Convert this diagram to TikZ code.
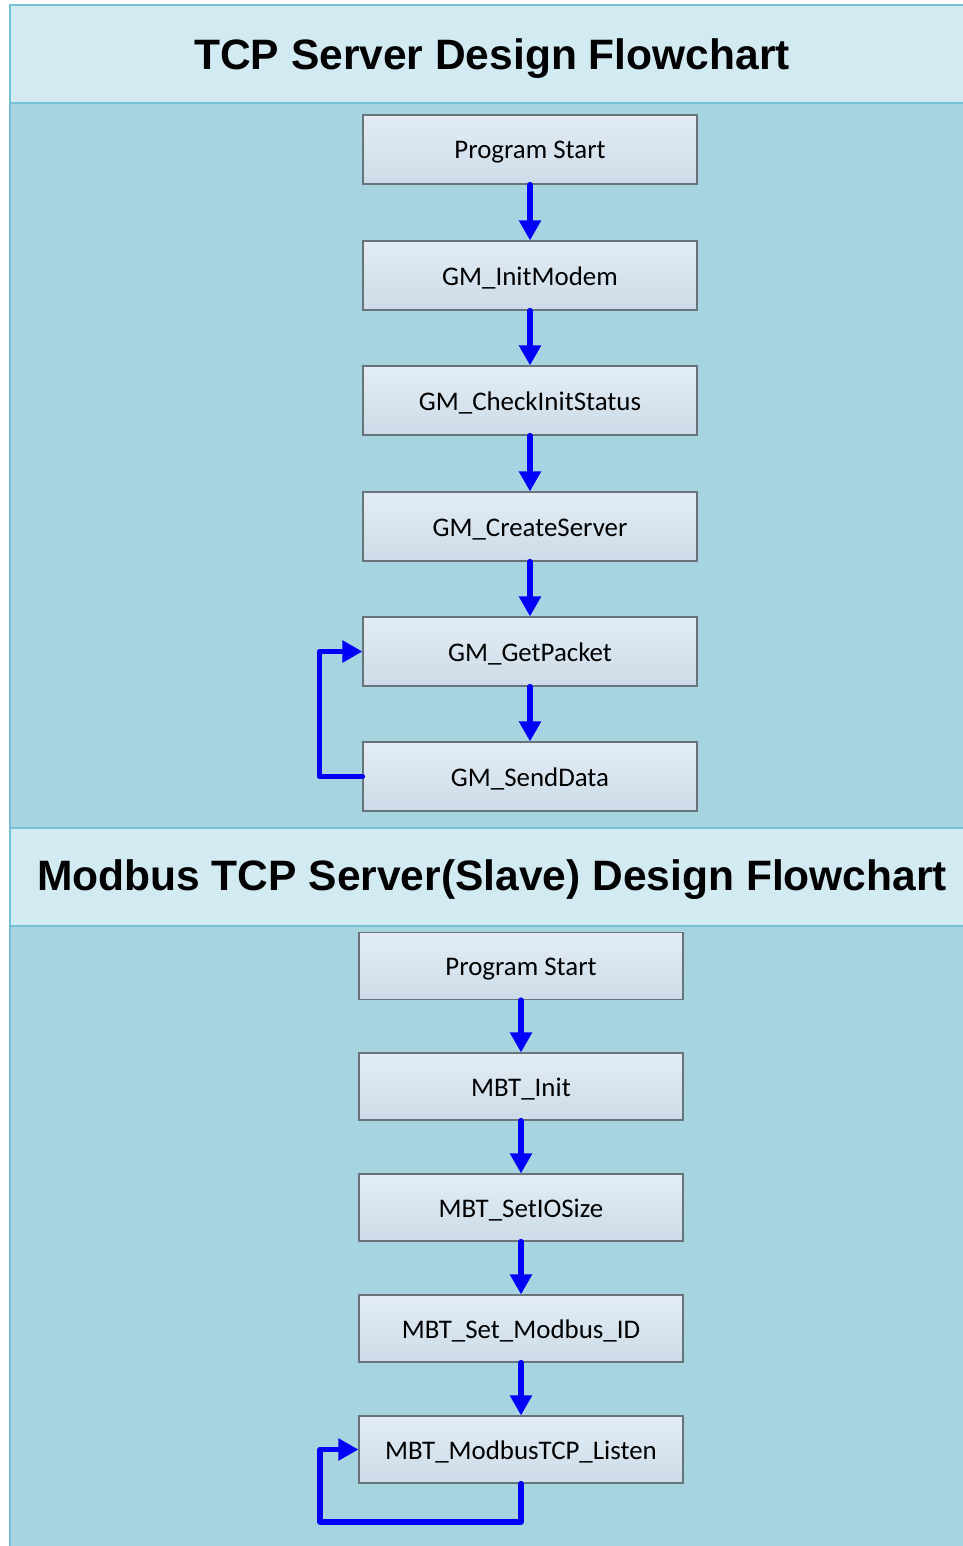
\documentclass[tikz,border=0pt]{standalone}
\usepackage{fontspec}
\setmainfont{Carlito}
\newfontfamily\headfont{Liberation Sans}
\usepackage{xcolor}
\definecolor{frame}{RGB}{118,192,212}
\definecolor{band}{RGB}{210,234,241}
\definecolor{panel}{RGB}{166,212,225}
\definecolor{boxtop}{RGB}{227,236,244}
\definecolor{boxbottom}{RGB}{204,220,232}
\definecolor{boxline}{RGB}{105,115,122}
\definecolor{flowblue}{RGB}{0,0,250}
\usetikzlibrary{arrows.meta, positioning}

\begin{document}
\begin{tikzpicture}[
        band/.style={draw=frame, line width=1.4pt, fill=band},
        section/.style={draw=frame, line width=1.4pt, fill=panel},
        heading/.style={font=\headfont\bfseries\fontsize{24.2}{27}\selectfont, text=black},
        funcbox/.style={rectangle, draw=boxline, line width=0.6pt, top color=boxtop, bottom color=boxbottom, minimum width=6.68cm, minimum height=1.38cm, align=center, text height=0.48cm, text depth=0.1cm, font=\fontsize{15.3}{18}\selectfont},
        mbtbox/.style={funcbox, minimum width=6.48cm, minimum height=1.34cm},
        flow/.style={-{Triangle[length=0.4cm, width=0.42cm]}, line width=3pt, flowblue, line cap=round, line join=round}
    ]
        \useasboundingbox (0,0) rectangle (19.26,-30.92);
        \fill[white] (0,0) rectangle (19.26,-30.92);

        % background bands
        \draw[band] (0.2,-0.1) rectangle (19.4,-2.06);
        \draw[section] (0.2,-2.06) rectangle (19.4,-16.56);
        \draw[band] (0.2,-16.56) rectangle (19.4,-18.52);
        \draw[section] (0.2,-18.52) rectangle (19.4,-31.2);

        \node[heading] (tcptitle) at (9.84,-1.17) {TCP Server Design Flowchart};
        \node[heading] (mbttitle) at (9.84,-17.6) {Modbus TCP Server(Slave) Design Flowchart};

        % TCP server steps
        \node[funcbox] (start) at (10.6,-2.99) {Program Start};
        \node[funcbox] (initmodem) at (10.6,-5.51) {GM\_InitModem};
        \node[funcbox] (checkinit) at (10.6,-8.01) {GM\_CheckInitStatus};
        \node[funcbox] (createserver) at (10.6,-10.53) {GM\_CreateServer};
        \node[funcbox] (getpacket) at (10.6,-13.03) {GM\_GetPacket};
        \node[funcbox] (senddata) at (10.6,-15.53) {GM\_SendData};

        % Modbus TCP server steps
        \node[mbtbox] (mbtstart) at (10.42,-19.32) {Program Start};
        \node[mbtbox] (mbtinit) at (10.42,-21.73) {MBT\_Init};
        \node[mbtbox] (setiosize) at (10.42,-24.15) {MBT\_SetIOSize};
        \node[mbtbox] (setid) at (10.42,-26.57) {MBT\_Set\_Modbus\_ID};
        \node[mbtbox] (listen) at (10.42,-28.99) {MBT\_ModbusTCP\_Listen};

        \draw[flow] (start) -- (initmodem);
        \draw[flow] (initmodem) -- (checkinit);
        \draw[flow] (checkinit) -- (createserver);
        \draw[flow] (createserver) -- (getpacket);
        \draw[flow] (getpacket) -- (senddata);
        \draw[flow] (senddata.west) -- ++(-0.86,0) |- (getpacket.west);

        \draw[flow] (mbtstart) -- (mbtinit);
        \draw[flow] (mbtinit) -- (setiosize);
        \draw[flow] (setiosize) -- (setid);
        \draw[flow] (setid) -- (listen);
        \draw[flow] (listen.south) |- (6.4,-30.44) |- (listen.west);
    \end{tikzpicture}
\end{document}
